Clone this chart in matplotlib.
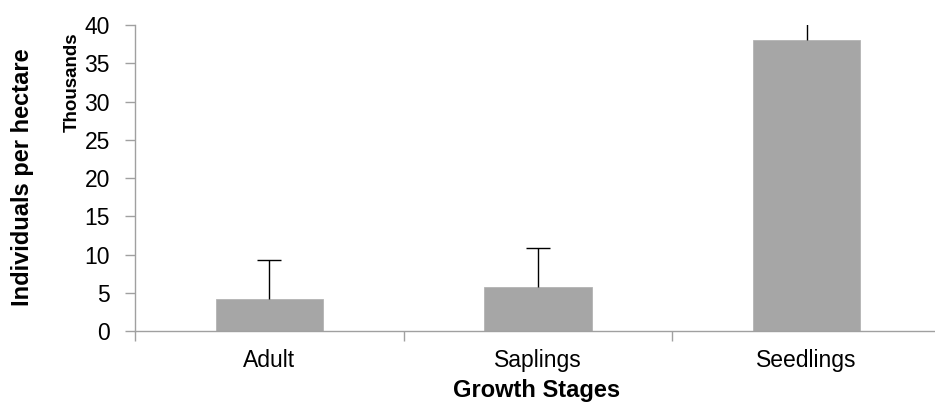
import numpy as np
import matplotlib
matplotlib.use('Agg')
import matplotlib.pyplot as plt
from matplotlib.ticker import FixedLocator, NullFormatter

plt.rcParams['font.family'] = ['Liberation Sans', 'DejaVu Sans']

# mean densities and upper standard errors, in thousands of individuals per ha
stages = ['Adult', 'Saplings', 'Seedlings']
density = [4.2, 5.8, 38.1]
density_err = [5.05, 5.1, 5.0]

axis_grey = '#a0a0a0'

fig = plt.figure(figsize=(9.35, 4.03), dpi=100)
ax = fig.add_axes([0.1444, 0.1787, 0.862, 0.759])

x = np.arange(len(stages))
top = np.array(density) + np.array(density_err)
ax.bar(x, density, width=0.4, color='#a6a6a6', edgecolor='#b4b4b4', lw=0.6, zorder=2)
# upper-only error bars: stem plus a cap at the top end
ax.vlines(x, density, top, color='black', lw=1.0, zorder=3)
ax.plot(x, top, ls='none', marker='_', ms=17, mew=1.0, color='black', zorder=3)

ax.set_xlim(-0.5, 2.5)
ax.set_ylim(0, 40)
ax.set_yticks(np.arange(0, 41, 5))

# tick marks between categories, labels centred under the bars
ax.xaxis.set_major_locator(FixedLocator([-0.5, 0.5, 1.5, 2.5]))
ax.xaxis.set_major_formatter(NullFormatter())
ax.xaxis.set_minor_locator(FixedLocator(x))
ax.set_xticklabels(stages, minor=True)
ax.tick_params(axis='x', which='major', length=7, width=1, color=axis_grey, direction='out')
ax.tick_params(axis='x', which='minor', length=0, labelsize=16.5, pad=13)
ax.tick_params(axis='y', length=7, width=1, color=axis_grey, labelsize=16.5, pad=11)

for side in ('top', 'right'):
    ax.spines[side].set_visible(False)
for side in ('left', 'bottom'):
    ax.spines[side].set_color(axis_grey)
    ax.spines[side].set_linewidth(1.0)

fig.text(537 / 935, 1 - 397 / 403, 'Growth Stages', ha='center', va='baseline',
         fontsize=17, fontweight='bold')
fig.text(23 / 935, 1 - 177 / 403, 'Individuals per hectare', rotation=90,
         ha='center', va='center', fontsize=17, fontweight='bold')
fig.text(72 / 935, 1 - 82 / 403, 'Thousands', rotation=90,
         ha='center', va='center', fontsize=13.5, fontweight='bold')

fig.savefig('out.png', dpi=100)
plt.close(fig)
